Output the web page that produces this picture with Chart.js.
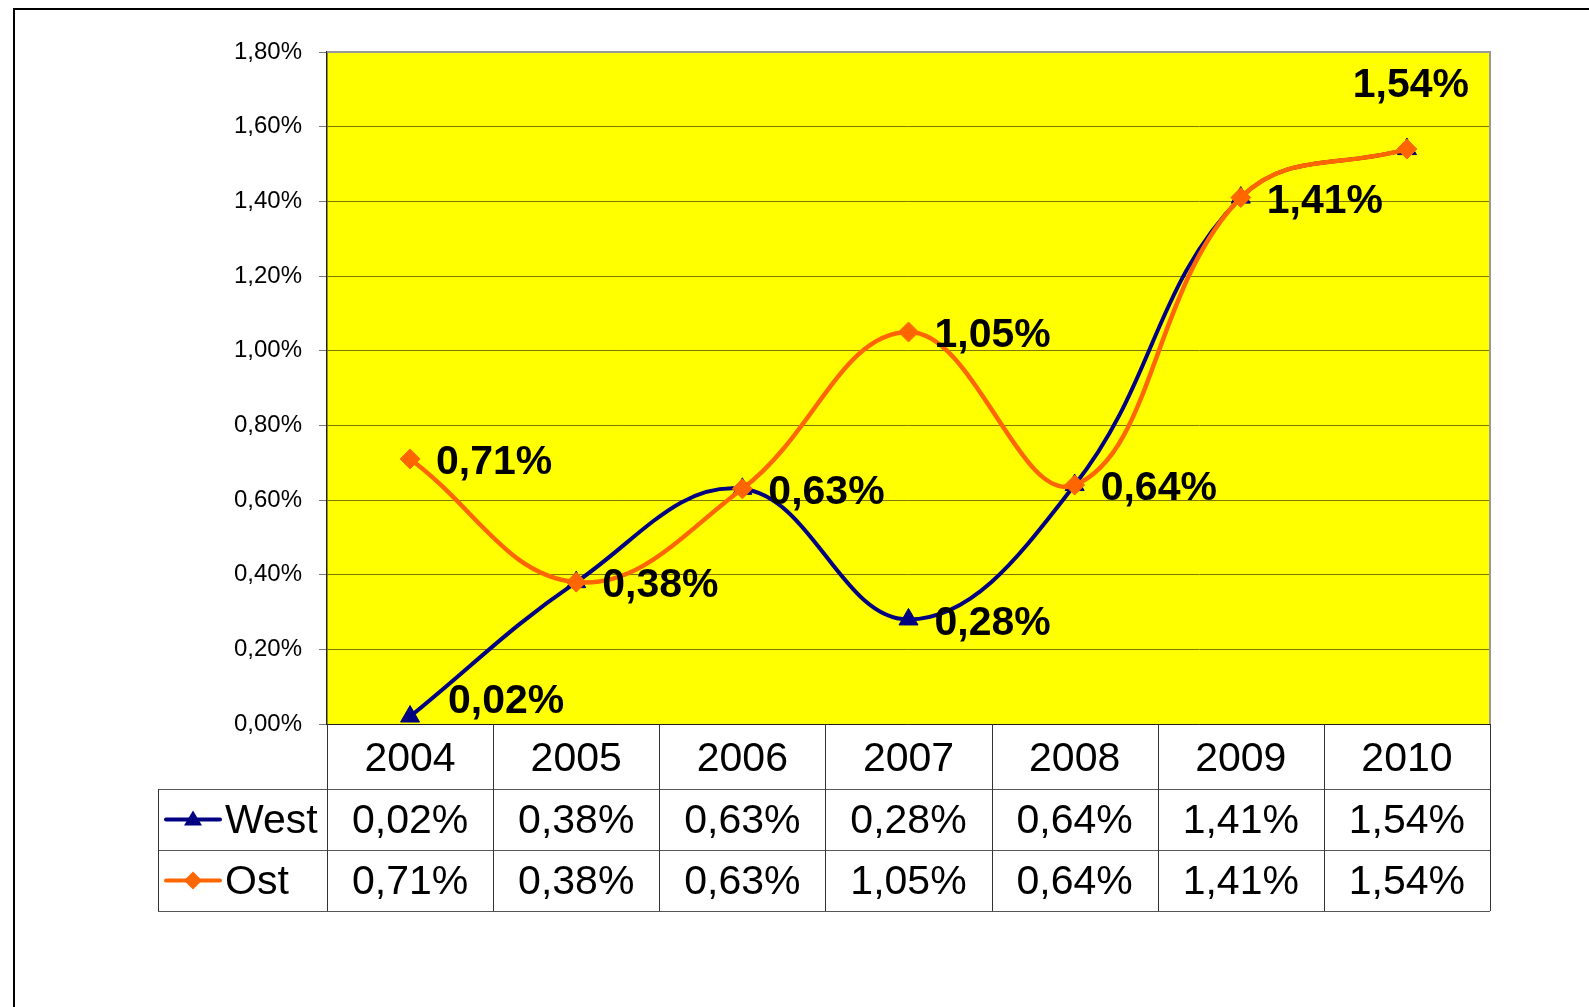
<!DOCTYPE html>
<html>
<head>
<meta charset="utf-8">
<script src="https://cdn.jsdelivr.net/npm/chart.js@4.4.0/dist/chart.umd.min.js"></script>
<style>
  html, body { margin: 0; padding: 0; background: #fff; overflow: hidden; }
  #wrap { width: 1589px; height: 1007px; position: relative; }
</style>
</head>
<body>
<div id="wrap"><canvas id="grafico" width="1589" height="1007"></canvas></div>
<script>
// datos del gráfico
const jahre = ['2004', '2005', '2006', '2007', '2008', '2009', '2010'];
const westWerte = [0.02, 0.38, 0.63, 0.28, 0.64, 1.41, 1.54];
const ostWerte = [0.71, 0.38, 0.63, 1.05, 0.64, 1.41, 1.54];
const serienNamen = ['West', 'Ost'];
const yTicks = [0, 0.2, 0.4, 0.6, 0.8, 1.0, 1.2, 1.4, 1.6, 1.8];

const farbeWest = '#000080';
const farbeOst = '#FF6600';
const schrift = '"Liberation Sans", Arial, Helvetica, sans-serif';

const fmt = v => v.toFixed(2).replace('.', ',') + '%';

// label placement tweaks (dx, dy from the point)
const labelOffsets = {
    'West-0': { dx: 38, dy: -15, align: 'left' },
    'Ost-6': { dx: 4, dy: -63, align: 'center' }
};

const fondoPlugin = {
    id: 'fondo',
    beforeDraw(chart) {
        const { ctx, chartArea: a } = chart;
        ctx.save();
        ctx.fillStyle = '#FFFF00';
        ctx.fillRect(a.left, a.top, a.right - a.left, a.bottom - a.top);
        ctx.restore();
    }
};

const etiquetasPlugin = {
    id: 'etiquetas',
    afterDatasetsDraw(chart) {
        const { ctx } = chart;
        ctx.save();
        ctx.font = 'bold 41px ' + schrift;
        ctx.fillStyle = '#000';
        ctx.textBaseline = 'middle';
        chart.data.datasets.forEach((ds, di) => {
            const meta = chart.getDatasetMeta(di);
            ds.data.forEach((v, i) => {
                if (ds.label === 'West' && v === ostWerte[i]) return;
                const p = meta.data[i];
                const o = labelOffsets[ds.label + '-' + i] || { dx: 26, dy: 4, align: 'left' };
                ctx.textAlign = o.align;
                ctx.fillText(fmt(v), p.x + o.dx, p.y + o.dy);
            });
        });
        ctx.restore();
    }
};

const tablaPlugin = {
    id: 'tabla',
    afterDraw(chart) {
        const { ctx, chartArea: a } = chart;
        const xs = chart.scales.x;
        const colW = (a.right - a.left) / jahre.length;
        const legLeft = a.left - 169;
        const r0 = a.bottom, r1 = r0 + 65, r2 = r1 + 61, r3 = r2 + 61;

        ctx.save();
        // plot border top/right
        ctx.strokeStyle = '#999';
        ctx.lineWidth = 2;
        ctx.beginPath();
        ctx.moveTo(a.left, a.top);
        ctx.lineTo(a.right, a.top);
        ctx.lineTo(a.right, a.bottom);
        ctx.stroke();

        // horizontal lines
        ctx.lineWidth = 1;
        ctx.strokeStyle = '#222';
        ctx.beginPath();
        ctx.moveTo(a.left, r0 + 0.5); ctx.lineTo(a.right, r0 + 0.5);
        ctx.stroke();
        ctx.strokeStyle = '#555';
        ctx.beginPath();
        [r1, r2, r3].forEach(y => { ctx.moveTo(legLeft, y + 0.5); ctx.lineTo(a.right, y + 0.5); });
        ctx.stroke();

        // vertical lines
        ctx.strokeStyle = '#333';
        ctx.beginPath();
        ctx.moveTo(legLeft + 0.5, r1); ctx.lineTo(legLeft + 0.5, r3);
        for (let k = 0; k <= jahre.length; k++) {
            const x = Math.round(a.left + k * colW) + 0.5;
            ctx.moveTo(x, r0); ctx.lineTo(x, r3);
        }
        ctx.stroke();

        // text
        ctx.fillStyle = '#000';
        ctx.font = '41px ' + schrift;
        ctx.textAlign = 'center';
        ctx.textBaseline = 'middle';
        jahre.forEach((j, i) => {
            const cx = xs.getPixelForValue(i);
            ctx.fillText(j, cx, (r0 + r1) / 2 + 3);
            ctx.fillText(fmt(westWerte[i]), cx, (r1 + r2) / 2 + 2);
            ctx.fillText(fmt(ostWerte[i]), cx, (r2 + r3) / 2 + 2);
        });

        // legend keys
        const filas = [(r1 + r2) / 2, (r2 + r3) / 2];
        const colores = [farbeWest, farbeOst];
        filas.forEach((y, k) => {
            ctx.strokeStyle = colores[k];
            ctx.fillStyle = colores[k];
            ctx.lineWidth = 4;
            ctx.lineCap = 'round';
            ctx.beginPath();
            ctx.moveTo(legLeft + 8, y); ctx.lineTo(legLeft + 62, y);
            ctx.stroke();
            const mx = legLeft + 35;
            ctx.beginPath();
            if (k === 0) {
                ctx.moveTo(mx, y - 9); ctx.lineTo(mx + 9, y + 6); ctx.lineTo(mx - 9, y + 6);
            } else {
                ctx.moveTo(mx, y - 9); ctx.lineTo(mx + 9, y); ctx.lineTo(mx, y + 9); ctx.lineTo(mx - 9, y);
            }
            ctx.closePath();
            ctx.fill();
            ctx.fillStyle = '#000';
            ctx.textAlign = 'left';
            ctx.fillText(serienNamen[k], legLeft + 67, y + 2);
        });

        // outer frame
        ctx.strokeStyle = '#000';
        ctx.lineWidth = 2;
        ctx.strokeRect(14, 9, 1700, 1200);
        ctx.restore();
    }
};

const ctxGrafico = document.getElementById('grafico').getContext('2d');
new Chart(ctxGrafico, {
    type: 'line',
    data: {
        labels: jahre,
        datasets: [{
            label: serienNamen[0],
            data: westWerte,
            borderColor: farbeWest,
            backgroundColor: farbeWest,
            borderWidth: 4,
            pointStyle: 'triangle',
            pointRadius: 11,
            pointBackgroundColor: farbeWest,
            pointBorderColor: farbeWest,
            pointBorderWidth: 1,
            tension: 0.4,
            order: 2,
            clip: false
        }, {
            label: serienNamen[1],
            data: ostWerte,
            borderColor: farbeOst,
            backgroundColor: farbeOst,
            borderWidth: 4.5,
            pointStyle: 'rectRot',
            pointRadius: 10,
            pointBackgroundColor: farbeOst,
            pointBorderColor: farbeOst,
            pointBorderWidth: 1,
            tension: 0.4,
            order: 1,
            clip: false
        }]
    },
    options: {
        responsive: false,
        animation: false,
        devicePixelRatio: 1,
        layout: { padding: { left: 0, top: 52, right: 99, bottom: 283 } },
        plugins: { legend: { display: false }, tooltip: { enabled: false } },
        scales: {
            x: { type: 'category', offset: true, display: false },
            y: {
                min: 0,
                max: 1.8,
                afterFit(scale) { scale.width = 327; },
                afterBuildTicks(scale) { scale.ticks = yTicks.map(v => ({ value: v })); },
                ticks: {
                    padding: 17,
                    color: '#000',
                    font: { family: schrift, size: 24 },
                    callback: v => fmt(v)
                },
                grid: {
                    color: '#7a7a00',
                    lineWidth: 1,
                    tickLength: 8,
                    tickColor: '#777'
                },
                border: { color: '#222', width: 1.5 }
            }
        }
    },
    plugins: [fondoPlugin, etiquetasPlugin, tablaPlugin]
});
</script>
</body>
</html>
